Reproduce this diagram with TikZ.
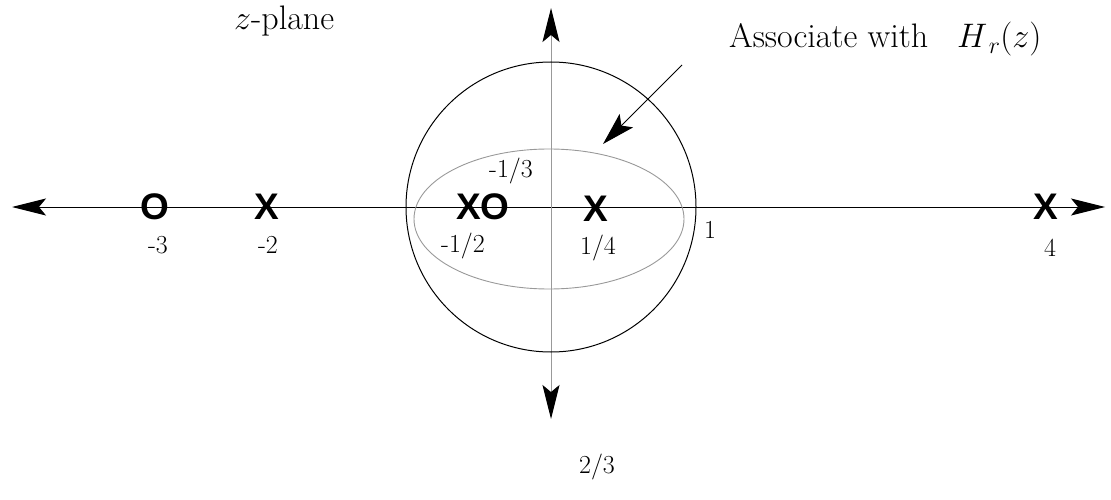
\RequirePackage{fix-cm}
\documentclass[tikz,border=0pt]{standalone}
\usepackage{fontspec}
\newfontfamily\markfont{Liberation Sans}
\usetikzlibrary{arrows.meta}
\begin{document}
\begin{tikzpicture}[x=1pt,y=-1pt,
  tip/.style={-{Stealth[length=34pt,width=17pt,inset=7pt,color=black]}},
  axis/.style={line width=1pt,tip},
  mk/.style={font=\markfont\bfseries\fontsize{37}{40}\selectfont, inner sep=0pt},
  lbl/.style={font=\fontsize{26}{30}\selectfont, inner sep=0pt},
  big/.style={font=\fontsize{34}{38}\selectfont, inner sep=0pt, anchor=base west}]
\useasboundingbox (0,0) rectangle (1111,500);
\coordinate (o) at (551,207);
\coordinate (l) at (12,207);
\coordinate (r) at (1105,207);
\coordinate (t) at (551,8);
\coordinate (b) at (551,419);
\draw[axis] (o) -- (l);
\draw[axis] (o) -- (r);
\draw[axis, gray!80] (o) -- (t);
\draw[axis, gray!80] (o) -- (b);
\draw[line width=1pt] (o) circle[radius=145];
\draw[line width=0.9pt, gray!80] (549,219) ellipse[x radius=135, y radius=70];
\coordinate (p1) at (682,65);
\coordinate (p2) at (603,144);
\draw[line width=1pt,-{Stealth[length=33pt,width=19pt,inset=7pt]}] (p1) -- (p2);
\node[mk] (m1) at (155,207) {O};
\node[mk] (m2) at (267,207) {X};
\node[mk] (m3) at (483,207) {XO};
\node[mk] (m4) at (596,209) {X};
\node[mk] (m5) at (1046,207) {X};
\node[lbl] (l1) at (158,245) {-3};
\node[lbl] (l2) at (268,245) {-2};
\node[lbl] (l3) at (511,171) {-1/3};
\node[lbl] (l4) at (463,246) {-1/2};
\node[lbl] (l5) at (598,248) {1/4};
\node[lbl] (l6) at (710,230) {1};
\node[lbl] (l7) at (1050,248) {4};
\node[lbl] (l8) at (597,467) {2/3};
\node[big] (zp) at (234,30) {$z$-plane};
\node[big] (as) at (729,48) {Associate with\hspace{0.85em}$H_{\,r}(z)$};
\end{tikzpicture}
\end{document}
